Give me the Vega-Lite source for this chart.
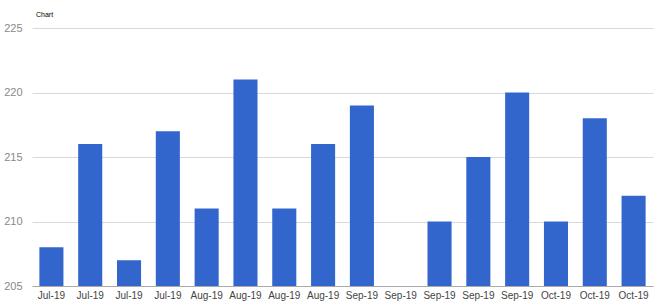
{
  "$schema": "https://vega.github.io/schema/vega-lite/v6.json",
  "width": 621,
  "height": 258,
  "autosize": "none",
  "padding": {"left": 32, "top": 28, "right": 12, "bottom": 19},
  "background": "white",
  "title": {"text": "Chart", "anchor": "start", "frame": "group", "fontSize": 7, "fontWeight": "normal", "font": "Liberation Sans", "color": "#000000", "offset": 4, "dx": 4},
  "config": {"view": {"stroke": null}, "title": {"color": "#000000"}},
  "data": {"values": [
    {"id": "Jul-19#1", "value": 208},
    {"id": "Jul-19#2", "value": 216},
    {"id": "Jul-19#3", "value": 207},
    {"id": "Jul-19#4", "value": 217},
    {"id": "Aug-19#1", "value": 211},
    {"id": "Aug-19#2", "value": 221},
    {"id": "Aug-19#3", "value": 211},
    {"id": "Aug-19#4", "value": 216},
    {"id": "Sep-19#1", "value": 219},
    {"id": "Sep-19#2", "value": 205},
    {"id": "Sep-19#3", "value": 210},
    {"id": "Sep-19#4", "value": 215},
    {"id": "Sep-19#5", "value": 220},
    {"id": "Oct-19#1", "value": 210},
    {"id": "Oct-19#2", "value": 218},
    {"id": "Oct-19#3", "value": 212}
  ]},
  "mark": {"type": "bar", "color": "#3366cc", "clip": true},
  "encoding": {
    "x": {"field": "id", "type": "nominal", "sort": null,
      "scale": {"paddingInner": 0.38, "paddingOuter": 0.19},
      "axis": {"title": null, "labelAngle": 0, "labelExpr": "split(datum.label, '#')[0]", "labelFont": "Liberation Sans", "labelFontSize": 10, "labelColor": "#444", "labelPadding": 4, "ticks": false, "domainColor": "#aaa", "labelBaseline": "top"}},
    "y": {"field": "value", "type": "quantitative",
      "scale": {"domain": [205, 225], "zero": false, "nice": false},
      "axis": {"title": null, "values": [205, 210, 215, 220, 225], "labelFont": "Liberation Sans", "labelFontSize": 11, "labelColor": "#888", "labelPadding": 10, "ticks": false, "domain": false, "gridColor": "#d9d9d9"}}
  }
}
